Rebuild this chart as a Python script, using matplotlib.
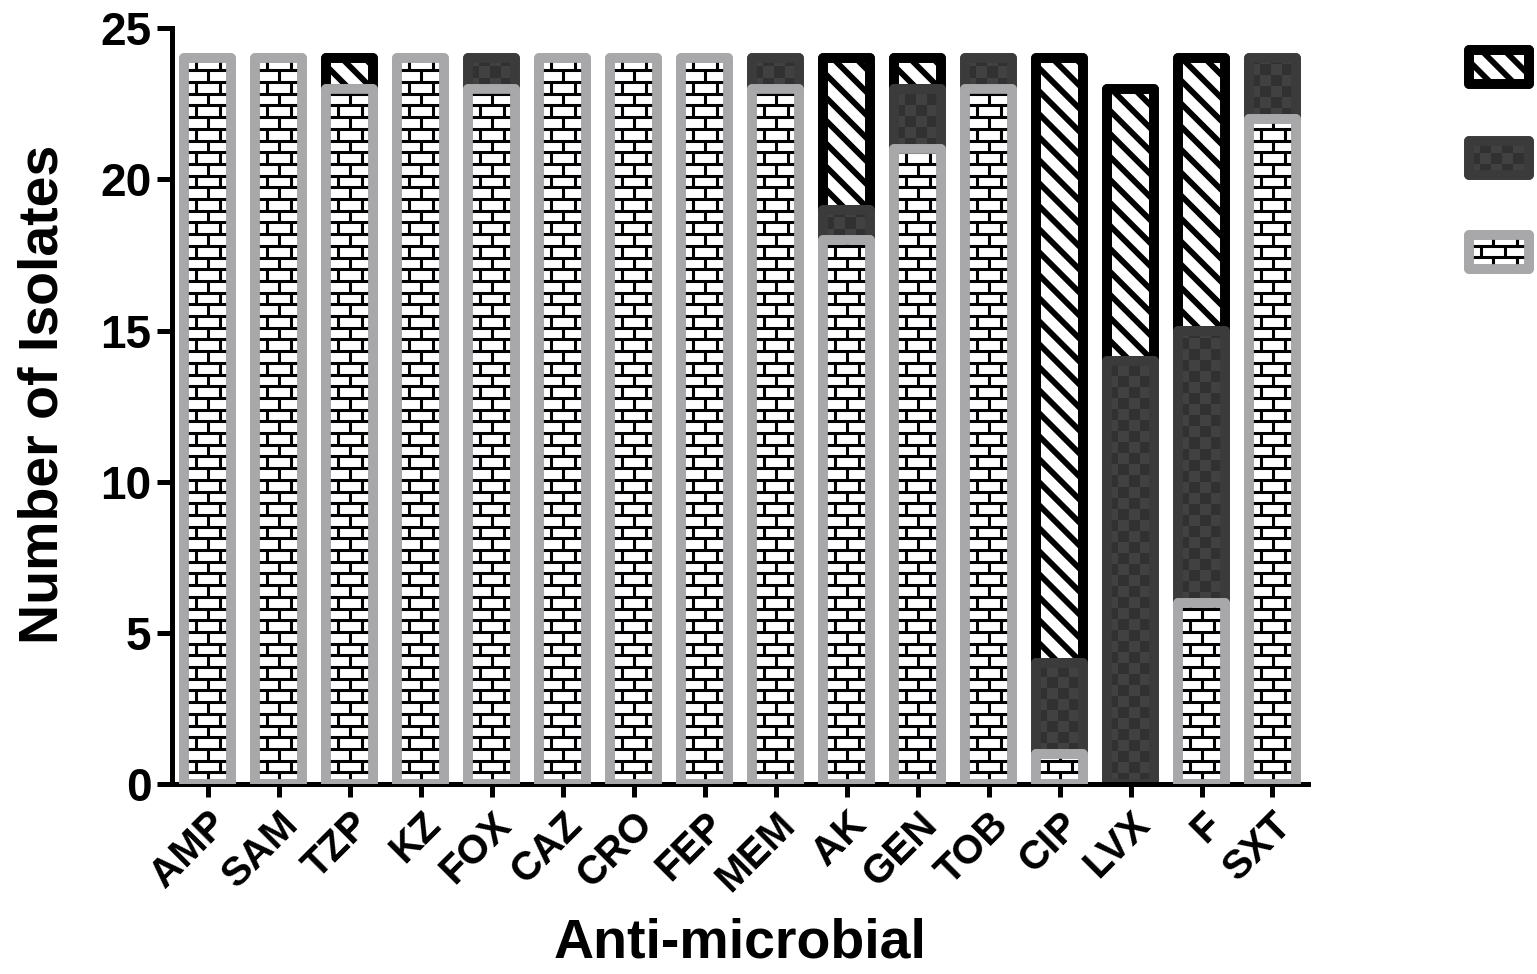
import numpy as np
import matplotlib
matplotlib.use("Agg")
import matplotlib.pyplot as plt
from matplotlib.collections import LineCollection
from matplotlib.colors import ListedColormap
from matplotlib.patches import Rectangle

drugs = ["AMP", "SAM", "TZP", "KZ", "FOX", "CAZ", "CRO", "FEP",
         "MEM", "AK", "GEN", "TOB", "CIP", "LVX", "F", "SXT"]
resistant = [24, 24, 23, 24, 23, 24, 24, 24, 23, 18, 21, 23, 1, 0, 6, 22]
intermediate = [0, 0, 0, 0, 1, 0, 0, 0, 1, 1, 2, 1, 3, 14, 9, 2]
susceptible = [0, 0, 1, 0, 0, 0, 0, 0, 0, 5, 1, 0, 20, 9, 9, 0]

plt.rcParams['font.family'] = ['Liberation Sans', 'DejaVu Sans']
plt.rcParams['font.weight'] = 'bold'

GREY = '#a8a8aa'
DARK = '#3b3b3b'
CHECK = ['#414141', '#313131']
LW = 7
W = 0.66

# face, edge for each kind of segment
STYLES = {
    'sus': ('white', 'black'),
    'int': (DARK, DARK),
    'res': ('white', GREY),
}


def px_scale(a):
    p0 = a.transData.transform((0, 0))
    p1 = a.transData.transform((1, 1))
    return abs(p1[0] - p0[0]), abs(p1[1] - p0[1])


def add_bricks(a, patch, z):
    sx, sy = px_scale(a)
    row = 11.7 / sy
    brick = 24 / sx
    x0, y0 = patch.get_x(), patch.get_y()
    x1, y1 = x0 + patch.get_width(), y0 + patch.get_height()
    segs = []
    k = 0
    y = y0
    while y < y1:
        segs.append([(x0, y), (x1, y)])
        xs = x0 + (k % 2) * brick / 2
        while xs < x1:
            segs.append([(xs, y), (xs, min(y + row, y1))])
            xs += brick
        y += row
        k += 1
    lc = LineCollection(segs, colors='black', linewidths=2.2, zorder=z)
    a.add_collection(lc)
    lc.set_clip_path(patch)


def add_stripes(a, patch, z):
    sx, sy = px_scale(a)
    period = 23
    x0, y0 = patch.get_x(), patch.get_y()
    w, h = patch.get_width(), patch.get_height()
    wpx, hpx = w * sx, h * sy
    segs = []
    n = int((wpx + hpx) / period) + 2
    for k in range(n):
        ys = y0 + k * period / sy
        segs.append([(x0 - 2 / sx, ys + 2 / sy), (x0 + (wpx + 2) / sx, ys - (wpx + 2) / sy)])
    lc = LineCollection(segs, colors='black', linewidths=4.2, zorder=z)
    a.add_collection(lc)
    lc.set_clip_path(patch)


def add_checker(a, patch, z):
    sx, sy = px_scale(a)
    cell = 11
    x0, y0 = patch.get_x(), patch.get_y()
    w, h = patch.get_width(), patch.get_height()
    nx = int(np.ceil(w * sx / cell))
    ny = int(np.ceil(h * sy / cell))
    grid = np.indices((ny, nx)).sum(axis=0) % 2
    ext = (x0, x0 + nx * cell / sx, y0, y0 + ny * cell / sy)
    im = a.imshow(grid, cmap=ListedColormap(CHECK), extent=ext, origin='lower',
                  aspect='auto', interpolation='nearest', zorder=z)
    im.set_clip_path(patch)


def decorate(a, patch, kind, z):
    face, edge = STYLES[kind]
    patch.set_joinstyle('round')
    if kind == 'res':
        add_bricks(a, patch, z + 0.1)
    elif kind == 'int':
        add_checker(a, patch, z + 0.1)
    else:
        add_stripes(a, patch, z + 0.1)
    a.add_patch(Rectangle((patch.get_x(), patch.get_y()), patch.get_width(),
                          patch.get_height(), fill=False, edgecolor=edge,
                          linewidth=LW, joinstyle='round', zorder=z + 0.2))


fig = plt.figure(figsize=(15.37, 9.74), dpi=100)
ax = fig.add_axes([0.112, 0.195, 0.739, 0.776])
ax.set_xlim(-0.5, 15.5)
ax.set_ylim(0, 25)

x = np.arange(len(drugs))
res = np.array(resistant)
mid = np.array(intermediate)
sus = np.array(susceptible)

layers = [('sus', sus, res + mid, 1), ('int', mid, res, 2), ('res', res, 0 * res, 3)]
for kind, vals, base, z in layers:
    face, edge = STYLES[kind]
    keep = vals > 0
    bars = ax.bar(x[keep], vals[keep], W, bottom=base[keep], color=face,
                  edgecolor=edge, linewidth=LW, zorder=z)
    for b in bars:
        decorate(ax, b, kind, z)

ax.set_xlim(-0.5, 15.5)
ax.set_ylim(0, 25)
ax.set_yticks([0, 5, 10, 15, 20, 25])
ax.set_xticks(x)
ax.set_xticklabels(drugs, rotation=45, ha='right', rotation_mode='anchor')
for s in ['top', 'right']:
    ax.spines[s].set_visible(False)
for s in ['left', 'bottom']:
    ax.spines[s].set_linewidth(3.6)
ax.tick_params(axis='y', length=11, width=3.6, labelsize=33, pad=4)
ax.tick_params(axis='x', length=9, width=3.6, labelsize=29, pad=6)
ax.set_ylabel('Number of Isolates', fontsize=40, fontweight='bold')
ax.yaxis.set_label_coords(-0.09, 0.515)
ax.set_xlabel('Anti-microbial', fontsize=40, fontweight='bold', labelpad=14)

# key at the right, labels cut off as in the source
key = fig.add_axes([1455 / 1537, 1 - 290 / 974, 82 / 1537, 260 / 974])
key.set_xlim(0, 82)
key.set_ylim(0, 260)
key.axis('off')
for kind, yc in [('sus', 223), ('int', 132), ('res', 38)]:
    face, edge = STYLES[kind]
    r = Rectangle((14, yc - 17), 60, 34, facecolor=face, edgecolor=edge,
                  linewidth=LW, zorder=1)
    key.add_patch(r)
    decorate(key, r, kind, 1)
key.set_xlim(0, 82)
key.set_ylim(0, 260)

fig.savefig('out.png', dpi=100)
